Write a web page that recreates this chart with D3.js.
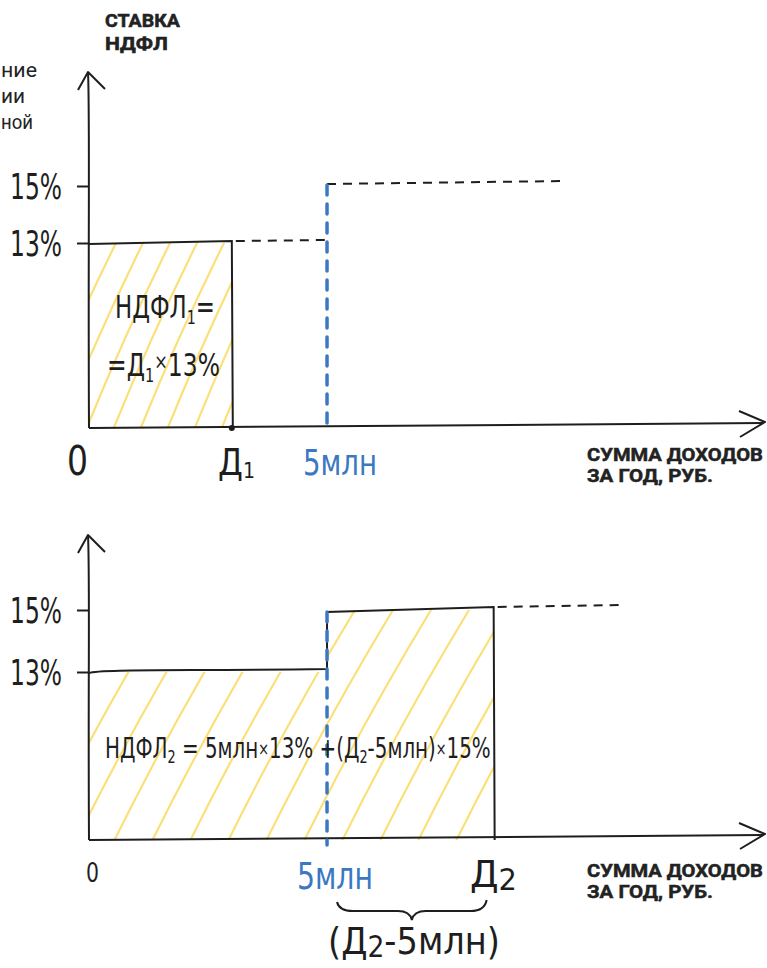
<!DOCTYPE html>
<html>
<head>
<meta charset="utf-8">
<script src="https://cdn.jsdelivr.net/npm/d3@7"></script>
<style>
  body { margin: 0; background: #fff; }
  .hand { font-family: "DejaVu Sans", sans-serif; fill: #1e1e1e; }
  .caps { font-family: Roboto, "Noto Sans", sans-serif; font-weight: 700; fill: #222; stroke: #222; stroke-width: 0.5; }
  .plain { font-family: Roboto, sans-serif; fill: #222; }
</style>
</head>
<body>
<div id="chart"></div>
<script>
// ставки НДФЛ, %
const rates = [13, 15];
const rateLabels = ["13%", "15%"];
// доходы, млн руб. (условные)
const threshold = 5;       // 5 млн
const incomeTop = 3;       // Д1
const incomeBottom = 8.5;  // Д2
const xMax = 14.2;
const dashEndTop = 10;
const dashEndBottom = 11.2;

const W = 767, H = 968;
const ink = "#1e1e1e";
const blue = "#3b78c2";
const hatch = "#fbe07a";

const svg = d3.select("#chart").append("svg")
    .attr("width", W)
    .attr("height", H);

const x = d3.scaleLinear().domain([0, xMax]).range([89, 765]);

// squeeze a text horizontally so it takes the given width (handwritten look)
function fitText(parent, left, baseline, size, width, cls, build) {
    const g = parent.append("g").attr("transform", `translate(${left},${baseline})`);
    const t = g.append("text").attr("class", cls).attr("font-size", size);
    build(t);
    const w = t.node().getBBox().width;
    g.attr("transform", `translate(${left},${baseline}) scale(${width / w},1)`);
    return t;
}

// left cropped caption (only the ends of the words are in frame)
fitText(svg, 1, 77, 21, 36, "plain", t => t.text("ние"));
fitText(svg, 1, 103, 21, 24, "plain", t => t.text("ии"));
fitText(svg, 1, 129, 21, 32, "plain", t => t.text("ной"));

// axis title
fitText(svg, 105, 27, 18, 76, "caps", t => t.text("СТАВКА"));
fitText(svg, 105, 50, 18, 63, "caps", t => t.text("НДФЛ"));

// draws axes, arrows, ticks and captions for one panel
function drawAxes(y, top, xLabelY) {
    const g = svg.append("g");
    const y0 = y(0);
    // y axis with arrow
    g.append("path")
        .attr("d", `M${x(0)},${y0} C${x(0) - 1},${(y0 + top) / 2} ${x(0) + 1},${top + 40} ${x(0) - 1},${top}`)
        .attr("fill", "none").attr("stroke", ink).attr("stroke-width", 2);
    g.append("path")
        .attr("d", `M${x(0) - 11},${top + 18} L${x(0) - 1},${top} L${x(0) + 16},${top + 17}`)
        .attr("fill", "none").attr("stroke", ink).attr("stroke-width", 2).attr("stroke-linejoin", "round");
    // x axis with arrow
    g.append("path")
        .attr("d", `M${x(0)},${y0} L${x(xMax) - 2},${y0 - 5}`)
        .attr("fill", "none").attr("stroke", ink).attr("stroke-width", 2);
    g.append("path")
        .attr("d", `M${x(xMax) - 26},${y0 - 17} L${x(xMax)},${y0 - 6} L${x(xMax) - 25},${y0 + 9}`)
        .attr("fill", "none").attr("stroke", ink).attr("stroke-width", 2).attr("stroke-linejoin", "round");

    // ticks
    const ax = d3.axisLeft(y).tickValues(rates).tickSize(12).tickPadding(15)
        .tickFormat((d, i) => rateLabels[i]);
    const axG = svg.append("g").attr("transform", `translate(${x(0)},0)`).call(ax);
    axG.select(".domain").remove();
    axG.selectAll("line").attr("stroke", ink).attr("stroke-width", 2);
    axG.selectAll("text").attr("class", "hand").attr("font-size", 36)
        .attr("dy", "0.36em").style("fill", ink)
        .each(function() {
            const t = d3.select(this);
            const w = this.getBBox().width;
            t.attr("x", 0).attr("transform", `translate(-27,0) scale(${52 / w},1)`);
        });

    // x caption
    fitText(svg, 587, xLabelY, 18.5, 176, "caps", t => t.text("СУММА ДОХОДОВ"));
    fitText(svg, 587, xLabelY + 21, 18.5, 126, "caps", t => t.text("ЗА ГОД, РУБ."));
}

function drawHatch(id, areaPath, x0, x1, yTop, yBot, spacing, slope) {
    svg.append("clipPath").attr("id", id).append("path").attr("d", areaPath);
    const h = yBot - yTop;
    const starts = d3.range(x0 - h * slope, x1 + spacing, spacing);
    svg.append("g").attr("clip-path", `url(#${id})`)
        .selectAll("path").data(starts).join("path")
        .attr("d", s => `M${s},${yBot} Q${s + h * slope * 0.45},${yTop + h * 0.5} ${s + h * slope},${yTop}`)
        .attr("fill", "none").attr("stroke", hatch).attr("stroke-width", 2.2).attr("stroke-linecap", "round");
}

// ---------- top panel ----------
const yTop = d3.scaleLinear().domain([0, 13, 15]).range([428, 243, 186]);

drawHatch("clipTop",
    `M${x(0)},${yTop(0)} L${x(0)},${yTop(13)} L${x(incomeTop)},${yTop(13)} L${x(incomeTop)},${yTop(0)} Z`,
    x(0), x(incomeTop), yTop(13), yTop(0), 27, 0.45);

drawAxes(yTop, 72, 461);

// step bar D1
svg.append("path")
    .attr("d", `M${x(0)},${yTop(13) + 1} L${x(incomeTop)},${yTop(13) - 2} L${x(incomeTop) + 1},${yTop(0)}`)
    .attr("fill", "none").attr("stroke", ink).attr("stroke-width", 2);
svg.append("circle").attr("cx", x(incomeTop)).attr("cy", yTop(0)).attr("r", 3).attr("fill", ink);

// dashed continuation
svg.append("line")
    .attr("x1", x(incomeTop) + 4).attr("y1", yTop(13) - 2)
    .attr("x2", x(threshold)).attr("y2", yTop(13) - 3)
    .attr("stroke", ink).attr("stroke-width", 2).attr("stroke-dasharray", "9,7");
svg.append("line")
    .attr("x1", x(threshold)).attr("y1", yTop(15) - 2)
    .attr("x2", x(dashEndTop)).attr("y2", yTop(15) - 5)
    .attr("stroke", ink).attr("stroke-width", 2).attr("stroke-dasharray", "9,7");
svg.append("line")
    .attr("x1", x(threshold)).attr("y1", yTop(15) - 1)
    .attr("x2", x(threshold)).attr("y2", yTop(0))
    .attr("stroke", blue).attr("stroke-width", 3.5).attr("stroke-dasharray", "10,9")
    .attr("stroke-linecap", "round");

// formula 1
fitText(svg, 115, 318, 32, 100, "hand", t => {
    t.append("tspan").text("НДФЛ");
    t.append("tspan").attr("font-size", 20).attr("dy", 6).text("1");
    t.append("tspan").attr("dy", -6).text("=");
});
fitText(svg, 107, 376, 32, 113, "hand", t => {
    t.append("tspan").text("=Д");
    t.append("tspan").attr("font-size", 20).attr("dy", 6).text("1");
    t.append("tspan").attr("font-size", 22).attr("dy", -13).text("×");
    t.append("tspan").attr("dy", 7).text("13%");
});

// x labels top
fitText(svg, 67, 475, 40, 21, "hand", t => t.text("0"));
fitText(svg, 218, 475, 37, 37, "hand", t => {
    t.append("tspan").text("Д");
    t.append("tspan").attr("font-size", 22).attr("dy", 3).text("1");
});
fitText(svg, 303, 475, 36, 74, "hand", t => t.style("fill", blue).text("5млн"));

// ---------- bottom panel ----------
const yBot = d3.scaleLinear().domain([0, 13, 15]).range([840, 672, 610]);

const stepPath = `M${x(0)},${yBot(0)} L${x(0)},${yBot(13)} L${x(threshold)},${yBot(13)} L${x(threshold)},${yBot(15)} L${x(incomeBottom)},${yBot(15)} L${x(incomeBottom)},${yBot(0)} Z`;
drawHatch("clipBot", stepPath, x(0), x(incomeBottom), yBot(15), yBot(0), 38, 0.55);

drawAxes(yBot, 535, 877);

svg.append("path")
    .attr("d", `M${x(0)},${yBot(13) + 1} C${x(0) + 10},${yBot(13) - 3} ${x(2)},${yBot(13) - 1} ${x(threshold)},${yBot(13) - 3} L${x(threshold)},${yBot(15) + 2} L${x(incomeBottom)},${yBot(15) - 3} L${x(incomeBottom) + 1},${yBot(0)}`)
    .attr("fill", "none").attr("stroke", ink).attr("stroke-width", 2);
svg.append("line")
    .attr("x1", x(incomeBottom) + 4).attr("y1", yBot(15) - 3)
    .attr("x2", x(dashEndBottom)).attr("y2", yBot(15) - 5)
    .attr("stroke", ink).attr("stroke-width", 2).attr("stroke-dasharray", "9,7");
svg.append("line")
    .attr("x1", x(threshold)).attr("y1", yBot(15) + 2)
    .attr("x2", x(threshold)).attr("y2", yBot(0) + 5)
    .attr("stroke", blue).attr("stroke-width", 3.5).attr("stroke-dasharray", "10,9")
    .attr("stroke-linecap", "round");

// formula 2
fitText(svg, 105, 758, 28, 386, "hand", t => {
    t.append("tspan").text("НДФЛ");
    t.append("tspan").attr("font-size", 18).attr("dy", 5).text("2");
    t.append("tspan").attr("dy", -5).text(" = 5млн");
    t.append("tspan").attr("font-size", 18).attr("dy", -3).text("×");
    t.append("tspan").attr("dy", 3).text("13% +(Д");
    t.append("tspan").attr("font-size", 18).attr("dy", 5).text("2");
    t.append("tspan").attr("dy", -5).text("-5млн)");
    t.append("tspan").attr("font-size", 18).attr("dy", -3).text("×");
    t.append("tspan").attr("dy", 3).text("15%");
});

// x labels bottom
fitText(svg, 86, 882, 27, 13, "hand", t => t.text("0"));
fitText(svg, 297, 889, 37, 76, "hand", t => t.style("fill", blue).text("5млн"));
fitText(svg, 470, 887, 38, 47, "hand", t => {
    t.append("tspan").text("Д");
    t.append("tspan").attr("font-size", 30).attr("dy", 3).text("2");
});

// brace under (Д2 - 5млн)
const bx0 = x(threshold) + 10, bx1 = x(incomeBottom) - 7, bm = (bx0 + bx1) / 2;
svg.append("path")
    .attr("d", `M${bx0},902 Q${bx0 + 2},911 ${bx0 + 16},911 L${bm - 14},911 Q${bm - 2},911 ${bm},920 Q${bm + 2},911 ${bm + 14},911 L${bx1 - 16},911 Q${bx1 - 2},911 ${bx1},900`)
    .attr("fill", "none").attr("stroke", ink).attr("stroke-width", 2);

fitText(svg, 328, 954, 38, 172, "hand", t => {
    t.append("tspan").text("(Д");
    t.append("tspan").attr("font-size", 30).attr("dy", 3).text("2");
    t.append("tspan").attr("dy", -3).text("-5млн)");
});
</script>
</body>
</html>
